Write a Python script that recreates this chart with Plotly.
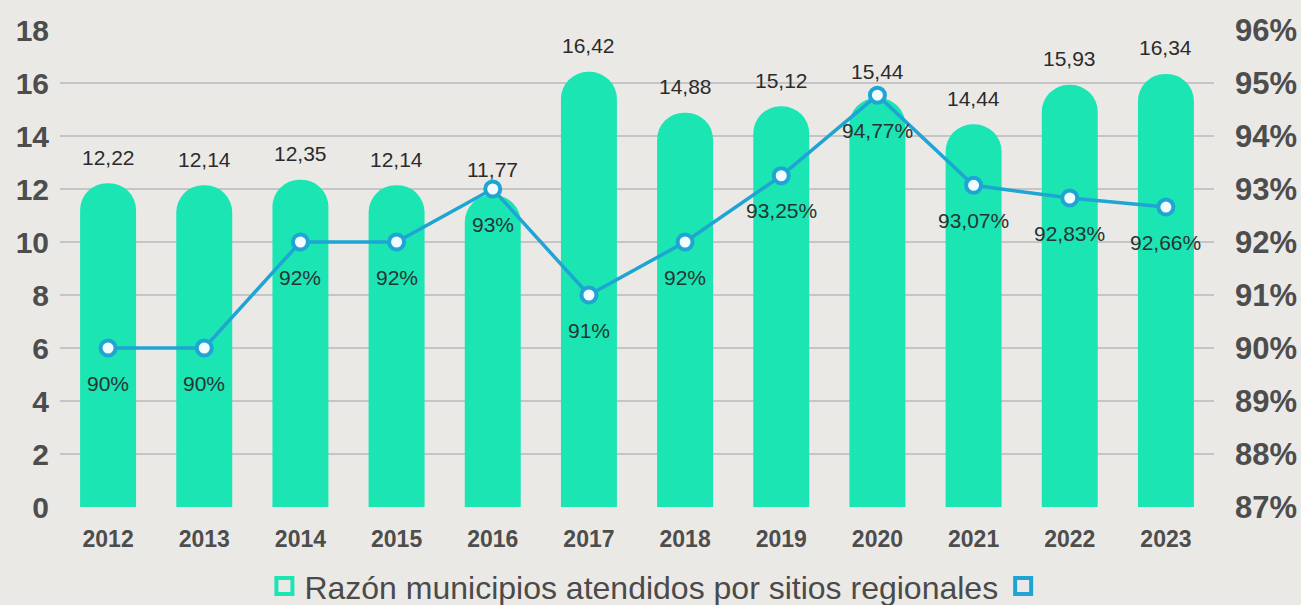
import plotly.graph_objects as go

years = ["2012", "2013", "2014", "2015", "2016", "2017", "2018", "2019", "2020", "2021", "2022", "2023"]
ratio = [12.22, 12.14, 12.35, 12.14, 11.77, 16.42, 14.88, 15.12, 15.44, 14.44, 15.93, 16.34]
pct = [90, 90, 92, 92, 93, 91, 92, 93.25, 94.77, 93.07, 92.83, 92.66]
pct_labels = ["90%", "90%", "92%", "92%", "93%", "91%", "92%", "93,25%", "94,77%", "93,07%", "92,83%", "92,66%"]
ratio_labels = ["12,22", "12,14", "12,35", "12,14", "11,77", "16,42", "14,88", "15,12", "15,44", "14,44", "15,93", "16,34"]
legend_names = ["Razón municipios atendidos por sitios regionales", " "]

BAR = "#1be5b3"
LINE = "#1ea5d3"
TICK = "#4d4d4d"
BG = "#ebe9e6"
FONT = "Liberation Sans, Arial, sans-serif"

fig = go.Figure()
fig.add_trace(go.Bar(
    x=years, y=ratio, marker=dict(color=BAR, cornerradius=28, line=dict(width=0)),
    showlegend=False, yaxis="y", hoverinfo="skip",
))
fig.add_trace(go.Scatter(
    x=years, y=pct, mode="lines+markers", yaxis="y2", showlegend=False,
    line=dict(color=LINE, width=3.5),
    marker=dict(size=15, color="#f2fbff", line=dict(color=LINE, width=4)),
))
# legend entries (hollow squares)
for name, col in zip(legend_names, [BAR, LINE]):
    fig.add_trace(go.Scatter(
        x=[years[0]], y=[None], mode="markers", name=name, yaxis="y",
        marker=dict(symbol="square-open", size=26, color=col, line=dict(width=4, color=col)),
    ))

annotations = []
for i, (v, t) in enumerate(zip(ratio, ratio_labels)):
    annotations.append(dict(x=i, y=v, xref="x", yref="y", text=t, showarrow=False,
                            yshift=26, font=dict(size=21, color="#2b2b2b", family=FONT)))
for i, (v, t) in enumerate(zip(pct, pct_labels)):
    annotations.append(dict(x=i, y=v, xref="x", yref="y2", text=t, showarrow=False,
                            yshift=-35, font=dict(size=21, color="#263434", family=FONT)))

fig.update_layout(
    width=1301, height=605,
    margin=dict(l=60, r=87, t=30, b=98, autoexpand=False),
    paper_bgcolor=BG, plot_bgcolor=BG,
    font=dict(family=FONT, color=TICK),
    bargap=0.418,
    annotations=annotations,
    xaxis=dict(
        type="category", categoryorder="array", categoryarray=years,
        range=[-0.5, len(years) - 0.5], automargin=False,
        showgrid=False, zeroline=False, showline=False, ticks="",
        tickfont=dict(size=23, color=TICK, family="Liberation Sans, Arial", weight="bold"),
        ticklabelstandoff=16,
    ),
    yaxis=dict(
        range=[0, 18], dtick=2, showgrid=True, gridcolor="#c5c5c5", gridwidth=2,
        zeroline=False, showline=False, ticks="", automargin=False,
        tickfont=dict(size=30, color=TICK, family="Liberation Sans, Arial", weight="bold"),
        ticklabelstandoff=10,
    ),
    yaxis2=dict(
        range=[87, 96], dtick=1, overlaying="y", side="right", showgrid=False,
        zeroline=False, showline=False, ticks="", ticksuffix="%", automargin=False,
        tickfont=dict(size=31, color=TICK, family="Liberation Sans, Arial", weight="bold"),
        ticklabelstandoff=20,
    ),
    legend=dict(
        orientation="h", xref="container", yref="container", x=0.508, xanchor="center",
        y=0.031, yanchor="middle", font=dict(size=32, color="#4a4a4a", family=FONT),
        bgcolor="rgba(0,0,0,0)", itemwidth=30,
    ),
)

fig.write_html("out.html", config={"displayModeBar": False},
               post_script="document.body.style.margin='0';")
